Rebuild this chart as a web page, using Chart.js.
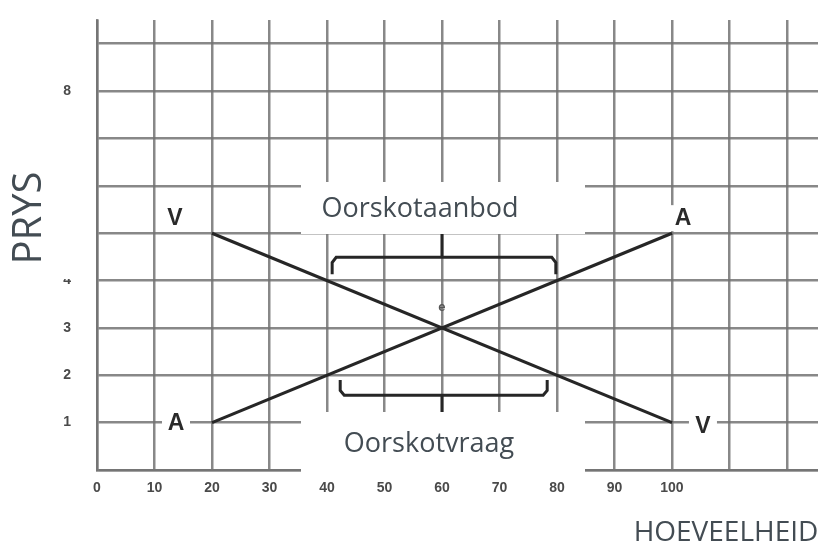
<!DOCTYPE html>
<html><head><meta charset="utf-8">
<script src="https://cdn.jsdelivr.net/npm/chart.js@4/dist/chart.umd.min.js"></script>
<style>html,body{margin:0;padding:0;background:#fff}canvas{display:block}</style>
</head><body>
<canvas id="c" width="818" height="545"></canvas>
<script>
// ---- data ----
const xTickLabels = [0,10,20,30,40,50,60,70,80,90,100];
const yTickLabels = [1,2,3,4,8];
const supplyX = [20, 100], supplyY = [1, 5];     // Aanbod (A)
const demandX = [20, 100], demandY = [5, 1];     // Vraag (V)
const braceTopX = [40.9, 40.9, 41.6, 79.1, 79.8, 79.8];
const braceTopY = [4.13, 4.38, 4.49, 4.49, 4.38, 4.13];
const stemTopX = [60, 60], stemTopY = [4.49, 5.0];
const braceBotX = [42.3, 42.3, 43.0, 77.6, 78.3, 78.3];
const braceBotY = [1.9, 1.68, 1.58, 1.58, 1.68, 1.9];
const stemBotX = [60, 60], stemBotY = [1.58, 1.2];
const eqX = 60, eqY = 3, eqLabel = 'e';
const xTitle = 'HOEVEELHEID', yTitle = 'PRYS';
const topLabel = 'Oorskotaanbod', botLabel = 'Oorskotvraag';

const pts = (xs, ys) => xs.map((x, i) => ({x, y: ys[i]}));
const lineDs = (xs, ys, w) => ({data: pts(xs, ys), borderColor: '#262626', borderWidth: w, pointRadius: 0, tension: 0, fill: false});

const GRID = 'rgba(115,115,115,0.85)';
const TEXT = '#434c53';

const overlay = {
  id: 'overlay',
  afterDatasetsDraw(chart) {
    const ctx = chart.ctx, xs = chart.scales.x, ys = chart.scales.y;
    ctx.save();
    ctx.fillStyle = '#fff';
    ctx.fillRect(301, 182, 284, 52);
    ctx.fillRect(301, 412, 284, 60);
    ctx.fillRect(0, 127, 77, 152);
    ctx.fillStyle = TEXT;
    ctx.textAlign = 'center';
    ctx.textBaseline = 'alphabetic';
    ctx.font = '27px "Open Sans"';
    ctx.fillText(topLabel, 420, 217);
    ctx.fillText(botLabel, 429, 452);
    ctx.font = '28px "Open Sans"';
    ctx.fillText(xTitle, 726, 541);
    ctx.save();
    ctx.translate(41, 218);
    ctx.rotate(-Math.PI / 2);
    ctx.font = '40px "Open Sans"';
    ctx.fillText(yTitle, 0, 0);
    ctx.restore();
    const letters = [
      ['V', xs.getPixelForValue(demandX[0]) - 37, ys.getPixelForValue(demandY[0]) - 15],
      ['A', xs.getPixelForValue(supplyX[1]) + 11, ys.getPixelForValue(supplyY[1]) - 15],
      ['A', xs.getPixelForValue(supplyX[0]) - 36, ys.getPixelForValue(supplyY[0]) + 1],
      ['V', xs.getPixelForValue(demandX[1]) + 31, ys.getPixelForValue(demandY[1]) + 4]
    ];
    ctx.font = 'bold 23px "Liberation Sans"';
    ctx.textBaseline = 'middle';
    letters.forEach(([t, x, y]) => {
      ctx.fillStyle = '#fff';
      ctx.fillRect(x - 14, y - 13, 28, 26);
      ctx.fillStyle = '#2a2a2a';
      ctx.fillText(t, x, y);
    });
    ctx.font = 'bold 13px "Liberation Sans"';
    ctx.fillStyle = '#555';
    ctx.fillText(eqLabel, xs.getPixelForValue(eqX), ys.getPixelForValue(eqY) - 20);
    ctx.restore();
  }
};

new Chart(document.getElementById('c'), {
  type: 'line',
  data: {datasets: [
    lineDs(supplyX, supplyY, 3.2),
    lineDs(demandX, demandY, 3.2),
    lineDs(braceTopX, braceTopY, 3),
    lineDs(stemTopX, stemTopY, 3),
    lineDs(braceBotX, braceBotY, 3),
    lineDs(stemBotX, stemBotY, 3)
  ]},
  options: {
    responsive: false, animation: false,
    layout: {padding: {top: 20, right: 0, left: 0, bottom: 0}},
    plugins: {legend: {display: false}, tooltip: {enabled: false}},
    scales: {
      x: {
        type: 'linear', min: 0, max: 125.4,
        afterBuildTicks: s => { s.ticks = Array.from({length: 13}, (_, i) => ({value: i * 10})); },
        afterFit: s => { s.height = 75; s.paddingLeft = 0; s.paddingRight = 0; },
        grid: {color: GRID, lineWidth: 2.5, drawTicks: false},
        border: {color: GRID, width: 2.5},
        ticks: {padding: 10, color: '#4a4a4a', font: {family: 'Liberation Sans', weight: 'bold', size: 14},
          autoSkip: false, maxRotation: 0,
          callback: v => xTickLabels.includes(v) ? String(v) : ''}
      },
      y: {
        type: 'linear', min: 0, max: 9.5,
        afterBuildTicks: s => { s.ticks = Array.from({length: 10}, (_, i) => ({value: i})); },
        afterFit: s => { s.width = 97; s.paddingTop = 0; s.paddingBottom = 0; },
        grid: {color: GRID, lineWidth: 2.5, drawTicks: false},
        border: {color: GRID, width: 2.5},
        ticks: {padding: 26, color: '#4a4a4a', font: {family: 'Liberation Sans', weight: 'bold', size: 14},
          autoSkip: false,
          callback: v => yTickLabels.includes(v) ? String(v) : ''}
      }
    }
  },
  plugins: [overlay]
});
</script>
</body></html>
